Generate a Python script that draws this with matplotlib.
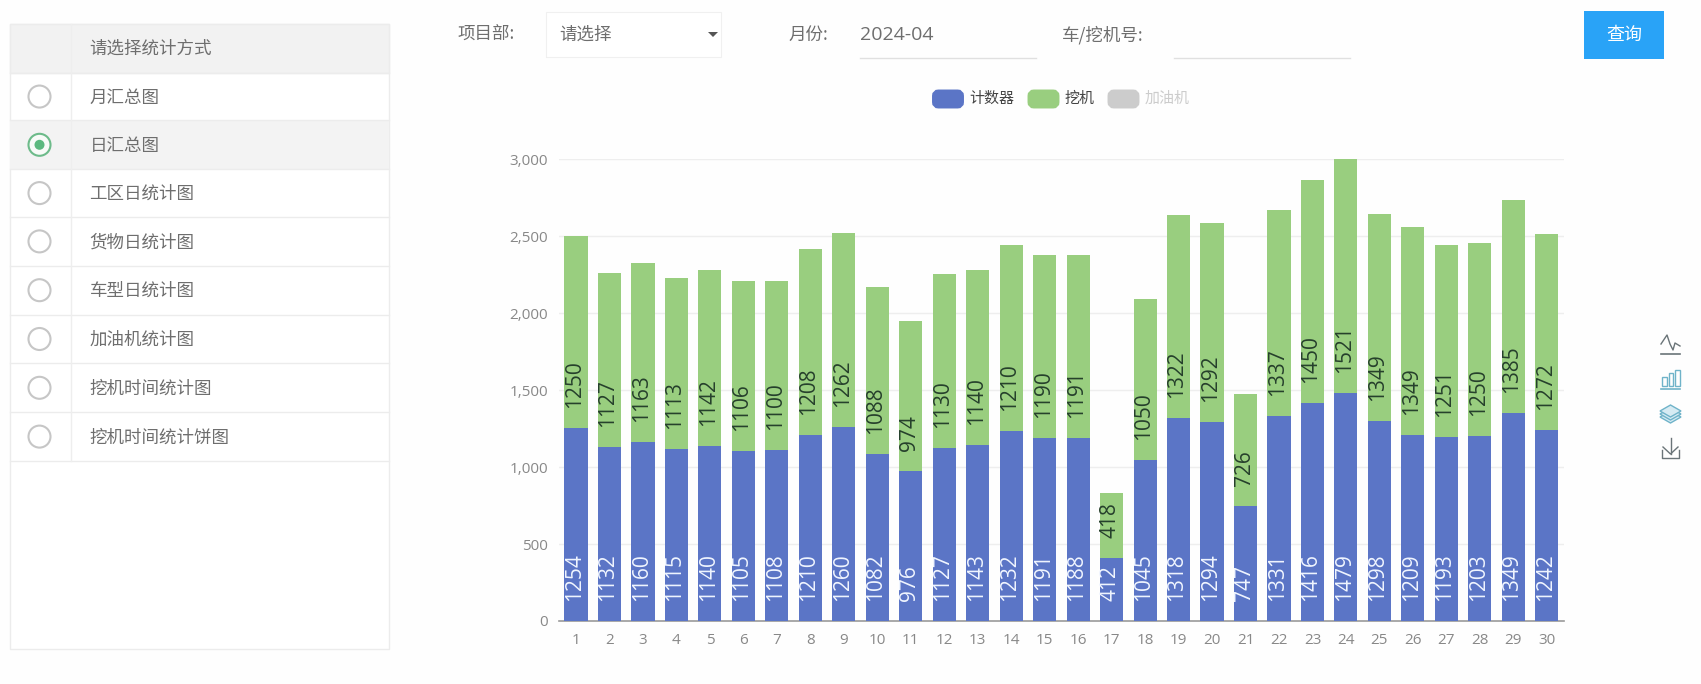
import matplotlib
matplotlib.use("Agg")
import matplotlib.pyplot as plt
from matplotlib.patches import Rectangle, FancyBboxPatch, Circle, Polygon
import numpy as np

plt.rcParams['font.family'] = ['Noto Sans CJK SC', 'DejaVu Sans']

days = list(range(1, 31))
counter = [1254, 1132, 1160, 1115, 1140, 1105, 1108, 1210, 1260, 1082, 976, 1127, 1143, 1232, 1191,
           1188, 412, 1045, 1318, 1294, 747, 1331, 1416, 1479, 1298, 1209, 1193, 1203, 1349, 1242]
digger = [1250, 1127, 1163, 1113, 1142, 1106, 1100, 1208, 1262, 1088, 974, 1130, 1140, 1210, 1190,
          1191, 418, 1050, 1322, 1292, 726, 1337, 1450, 1521, 1349, 1349, 1251, 1250, 1385, 1272]
y_ticks = [0, 500, 1000, 1500, 2000, 2500, 3000]
menu_header = '请选择统计方式'
menu_rows = ['月汇总图', '日汇总图', '工区日统计图', '货物日统计图', '车型日统计图',
             '加油机统计图', '挖机时间统计图', '挖机时间统计饼图']
selected_row = 1
legend_names = ['计数器', '挖机', '加油机']

W, H = 1701, 684
BLUE = '#5b75c6'
GREEN = '#99ce7f'
GREY_TEXT = '#6e6e6e'

fig = plt.figure(figsize=(W / 100, H / 100), dpi=100, facecolor='#fefefe')

# page furniture is laid out in pixel coordinates
ui = fig.add_axes([0, 0, 1, 1])
ui.set_xlim(0, W)
ui.set_ylim(H, 0)
ui.axis('off')

# left table
row_edges = [72.7, 120.4, 169.2, 217, 265.8, 314.6, 363.4, 412.2, 461]
ui.add_patch(Rectangle((10, 24), 379, 625, fc='white', ec='#ececec', lw=1))
ui.add_patch(Rectangle((10, 24), 379, 48.7, fc='#f2f2f2', ec='#ececec', lw=1))
ui.add_patch(Rectangle((10, row_edges[selected_row]), 379,
                       row_edges[selected_row + 1] - row_edges[selected_row], fc='#f3f3f3', ec='none'))
for e in row_edges:
    ui.plot([10, 389], [e, e], color='#ececec', lw=1)
ui.plot([70.5, 70.5], [24, 461], color='#eeeeee', lw=1)
ui.text(89.5, 49, menu_header, fontsize=12.6, color=GREY_TEXT, va='center')
for i, name in enumerate(menu_rows):
    yc = (row_edges[i] + row_edges[i + 1]) / 2
    ui.text(89.5, yc + 1, name, fontsize=12.6, color=GREY_TEXT, va='center')
    if i == selected_row:
        ui.add_patch(Circle((39.5, yc), 11, fc='#f8fbf8', ec='#6dbb8a', lw=1.5))
        ui.add_patch(Circle((39.5, yc), 5, fc='#5cb97f', ec='none'))
    else:
        ui.add_patch(Circle((39.5, yc), 11, fc='white', ec='#c6c6c6', lw=1.5))

# filter row
ui.add_patch(Rectangle((546, 13), 175, 45, fc='#dcdcdc', ec='none'))
ui.add_patch(Rectangle((546, 12), 175, 44.5, fc='white', ec='#f0f0f0', lw=0.8))
ui.add_patch(Polygon([[708, 32], [718, 32], [713, 37]], fc='#555555', ec='none'))
ui.text(457, 35, '项目部:', fontsize=12.6, color=GREY_TEXT, va='center')
ui.text(559, 35, '请选择', fontsize=12.6, color=GREY_TEXT, va='center')
ui.text(788, 35, '月份:', fontsize=12.6, color=GREY_TEXT, va='center')
ui.text(860, 35, '2024-04', fontsize=14, color=GREY_TEXT, va='center', family='Open Sans')
ui.text(1062, 35, '车/挖机号:', fontsize=12.6, color=GREY_TEXT, va='center')
ui.plot([860, 1036], [58.3, 58.3], color='#e0e0e0', lw=1)
ui.plot([1174, 1350], [58.3, 58.3], color='#e0e0e0', lw=1)
ui.add_patch(Rectangle((1584, 11), 80, 48, fc='#29a3f7', ec='none'))
ui.text(1624, 35, '查询', fontsize=13, color='white', va='center', ha='center')

# legend
swatches = [(932.5, BLUE, '#444444'), (1028, GREEN, '#444444'), (1108, '#cccccc', '#cccccc')]
for (sx, col, tcol), name in zip(swatches, legend_names):
    ui.add_patch(FancyBboxPatch((sx + 3, 93), 25, 12, boxstyle='round,pad=0,rounding_size=3',
                                mutation_aspect=1, fc=col, ec=col, lw=5))
    ui.text(sx + 36.5, 99, name, fontsize=10.8, color=tcol, va='center')

# toolbox icons
ICON = '#6a7478'
ICON_ACTIVE = '#6fb3c9'
ui.plot([1661, 1680], [354, 354], color=ICON, lw=1.2)
ui.plot([1661, 1667, 1670, 1673, 1675, 1680], [344, 335, 344, 350, 343, 346], color=ICON, lw=1)
ui.plot([1661, 1680], [389, 389], color=ICON_ACTIVE, lw=1.2)
for bx, btop in zip([1662, 1668.5, 1675], [377, 373, 370]):
    ui.add_patch(Rectangle((bx, btop), 4.5, 386 - btop, fc='none', ec=ICON_ACTIVE, lw=1))
for dy in [6, 3, 0]:
    ui.add_patch(Polygon([[1660, 411 + dy], [1670.5, 405 + dy], [1681, 411 + dy], [1670.5, 417 + dy]],
                         fc='#d6ebf3', ec=ICON_ACTIVE, lw=1))
ui.plot([1662, 1662, 1679, 1679], [450, 458, 458, 450], color=ICON, lw=1)
ui.plot([1670.5, 1670.5], [438, 454], color=ICON, lw=1)
ui.plot([1663, 1670.5, 1678], [447, 454, 447], color=ICON, lw=1)

# chart
left, right, top, bottom = 559.3, 1563.5, 159.3, 621
ax = fig.add_axes([left / W, 1 - bottom / H, (right - left) / W, (bottom - top) / H])
ax.patch.set_alpha(0)
x = np.array(days)
counter = np.array(counter)
digger = np.array(digger)
ax.bar(x, counter, width=0.69, color=BLUE, lw=0, zorder=3)
ax.bar(x, digger, width=0.69, bottom=counter, color=GREEN, lw=0, zorder=3)

for i in range(len(days)):
    ax.annotate(str(counter[i]), (x[i], 0), xytext=(-1.5, 20), textcoords='offset pixels',
                rotation=90, ha='center', va='bottom', fontsize=15, color='#f0f5ff',
                family='Open Sans', zorder=4)
    ax.annotate(str(digger[i]), (x[i], counter[i]), xytext=(-1.5, 20), textcoords='offset pixels',
                rotation=90, ha='center', va='bottom', fontsize=15, color='#26402c',
                family='Open Sans', zorder=4)

ax.set_xlim(0.5, 30.5)
ax.set_ylim(0, 3000)
ax.set_yticks(y_ticks)
ax.set_yticklabels([f'{v:,}' for v in y_ticks], family='Open Sans')
ax.set_xticks(x)
ax.set_xticklabels(days, family='Open Sans')
ax.tick_params(axis='both', length=0, labelsize=11, labelcolor='#888888')
ax.tick_params(axis='y', pad=8)
ax.tick_params(axis='x', pad=9)
ax.grid(axis='y', color='#eeeeee', lw=1, zorder=0)
for s in ['top', 'left', 'right']:
    ax.spines[s].set_visible(False)
ax.spines['bottom'].set_color('#9a9a9a')
ax.spines['bottom'].set_linewidth(1.2)

fig.savefig('out.png', dpi=100, facecolor=fig.get_facecolor())
